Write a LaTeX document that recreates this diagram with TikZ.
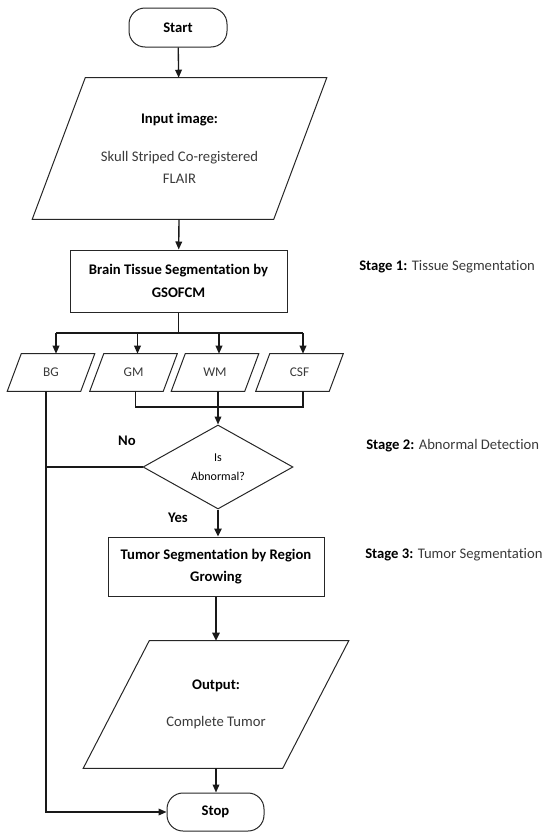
\documentclass[tikz,border=0pt]{standalone}
\usepackage{fontspec}
\setmainfont{Carlito}[Ligatures={NoCommon,NoContextual}]
\usetikzlibrary{shapes.geometric,arrows.meta,calc}
\definecolor{txt}{HTML}{3A3A3A}
\newcommand{\paraoutline}[2]{%
  \draw[shapeline] ($(#1.north west)+(#2/2,0)$) -- ($(#1.north east)+(#2/2,0)$)
    -- ($(#1.south east)-(#2/2,0)$) -- ($(#1.south west)-(#2/2,0)$) -- cycle;}
\begin{document}
\begin{tikzpicture}[x=0.75pt,y=-0.75pt,
  base/.style={draw=black!85, line width=0.75pt, inner sep=0pt, align=center},
  term/.style={base, rectangle, rounded corners=12pt, minimum width=73.5pt, minimum height=29.25pt, font=\fontsize{11}{13}\selectfont\bfseries},
  proc/.style={base, rectangle, font=\fontsize{11}{17}\selectfont\bfseries},
  io/.style={inner sep=0pt, align=center, rectangle, font=\fontsize{11}{16.5}\selectfont},
  small/.style={io, minimum width=54.75pt, minimum height=27.75pt, font=\fontsize{10}{12}\selectfont, text=txt},
  lbl/.style={inner sep=0pt, font=\fontsize{11}{13}\selectfont},
  shapeline/.style={draw=black!85, line width=0.75pt},
  line/.style={draw=black!90, line width=1pt},
  conn/.style={line, -{Triangle[length=6pt,width=5pt]}},
  connthick/.style={line, line width=1.7pt, -{Triangle[length=6pt,width=5.5pt]}}
]
\useasboundingbox (0,0) rectangle (545,832);

% nodes
\node[term] (start) at (178,27.5) {Start};
\node[io, minimum width=180.75pt, minimum height=105.75pt] (in) at (179.5,148.5)
  {\textbf{Input image:}\\[12pt]{\color{txt}Skull Striped Co-registered}\\{\color{txt}FLAIR}};
\paraoutline{in}{53}
\node[proc, minimum width=162.75pt, minimum height=46.5pt] (brain) at (178.5,281) {Brain Tissue Segmentation by\\GSOFCM};

\node[small] (bg) at (51,372.5) {BG};
\node[small] (gm) at (133.5,372.5) {GM};
\node[small] (wm) at (215,372.5) {WM};
\node[small] (csf) at (299.5,372.5) {CSF};
\paraoutline{bg}{14}
\paraoutline{gm}{14}
\paraoutline{wm}{14}
\paraoutline{csf}{14}

\node[base, diamond, aspect=1.79, minimum width=112.5pt, minimum height=63pt, font=\fontsize{9}{14.25}\selectfont] (dec) at (218,467) {Is\\Abnormal?};

\node[proc, minimum width=162pt, minimum height=44.25pt] (tum) at (216,566.5) {Tumor Segmentation by Region\\Growing};

\node[io, minimum width=149.25pt, minimum height=95.25pt] (out) at (216,704.5)
  {\textbf{Output:}\\[11.25pt]{\color{txt}Complete Tumor}};
\paraoutline{out}{66}

\node[term, minimum width=72.75pt, minimum height=28.5pt] (stop) at (215.5,812) {Stop};

% labels
\node[lbl, anchor=west] (s1) at (359,267) {\textbf{Stage 1:} {\color{txt}Tissue Segmentation}};
\node[lbl, anchor=west] (s2) at (366,446) {\textbf{Stage 2:} {\color{txt}Abnormal Detection}};
\node[lbl, anchor=west] (s3) at (365,555) {\textbf{Stage 3:} {\color{txt}Tumor Segmentation}};
\node[lbl, font=\fontsize{11}{13}\selectfont\bfseries] (no) at (127,441) {No};
\node[lbl, font=\fontsize{11}{13}\selectfont\bfseries] (yes) at (178,518) {Yes};

% helper coordinates
\coordinate (bus) at (178.5,333);
\coordinate (join) at (0,407);
\coordinate (bgT) at ($(bg.north)+(5,0)$);
\coordinate (gmT) at ($(gm.north)+(4,0)$);
\coordinate (wmT) at ($(wm.north)+(4,0)$);
\coordinate (csfT) at ($(csf.north)+(3.5,0)$);
\coordinate (bgB) at ($(bg.south)+(-5,0)$);
\coordinate (gmB) at ($(gm.south)+(2,0)$);
\coordinate (wmB) at ($(wm.south)+(3,0)$);
\coordinate (csfB) at ($(csf.south)+(3.5,0)$);

% connectors
\draw[conn] (start) -- (in);
\draw[conn] (in) -- (brain);
\draw[line] (brain.south) -- (bus);
\draw[line] (bgT |- bus) -- (csfT |- bus);
\draw[conn] (bgT |- bus) -- (bgT);
\draw[conn] (gmT |- bus) -- (gmT);
\draw[conn] (wmT |- bus) -- (wmT);
\draw[conn] (csfT |- bus) -- (csfT);
\draw[line] (gmB) -- (gmB |- join) -- (csfB |- join) -- (csfB);
\draw[conn] (wmB) -- (wmB |- dec.north);
\draw[line] (dec.west) -- (dec.west -| bgB);
\draw[conn] (bgB) |- (stop.west);
\draw[connthick] (dec.south) -- (dec.south |- tum.north);
\draw[connthick] (tum.south) -- (tum.south |- out.north);
\draw[conn] (out.south) -- (out.south |- stop.north);
\end{tikzpicture}
\end{document}
